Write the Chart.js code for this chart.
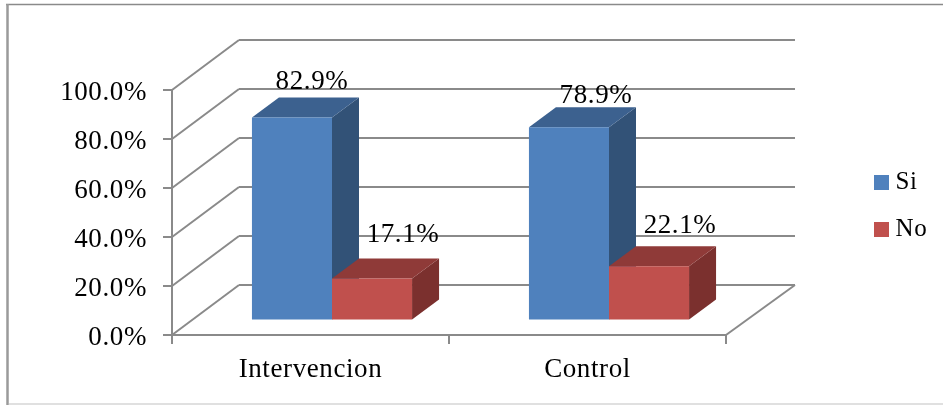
<!DOCTYPE html>
<html>
<head>
<meta charset="utf-8">
<style>html,body{margin:0;padding:0;background:#fff}canvas{display:block}</style>
<script src="https://cdn.jsdelivr.net/npm/chart.js@4"></script>
</head>
<body>
<canvas id="c" width="943" height="405"></canvas>
<script>
const categories = ['Intervencion', 'Control'];
const seriesSi = [82.9, 78.9];
const seriesNo = [17.1, 22.1];
const yTicks = [0, 20, 40, 60, 80, 100];

const FONT = '"Liberation Serif", serif';
const FONT_SIZE = 27;
const LINE = '#8a8a8a';
// Oblique projection of the box: wall depth and the offset and depth of the bars.
const WALL = { dx: 67, dy: -50, overhang: 2 };
const BAR = { dx: 27, dy: -20, shiftX: 21.5, shiftY: -14.5 };
const SHADES = [
  { top: '#3c618f', side: '#325277' },
  { top: '#8f3a38', side: '#7b302e' }
];
// Manual placement of the value labels relative to each bar's front top centre.
const LABEL_NUDGE = [
  [[20, -35.5], [27, -31.5]],
  [[31, -43.5], [31, -40.5]]
];

function line(ctx, x1, y1, x2, y2) {
  ctx.beginPath();
  ctx.moveTo(x1, y1);
  ctx.lineTo(x2, y2);
  ctx.stroke();
}

function poly(ctx, color, pts) {
  ctx.fillStyle = color;
  ctx.beginPath();
  pts.forEach((p, i) => i ? ctx.lineTo(p[0], p[1]) : ctx.moveTo(p[0], p[1]));
  ctx.closePath();
  ctx.fill();
}

const frame = {
  id: 'frame',
  beforeDraw(chart) {
    const ctx = chart.ctx;
    ctx.letterSpacing = '0.6px';
    ctx.save();
    ctx.strokeStyle = '#8a8a8a';
    ctx.lineWidth = 1.5;
    line(ctx, 6, 4.5, 943, 4.5);
    ctx.strokeStyle = '#9a9a9a';
    ctx.lineWidth = 2.5;
    line(ctx, 7.5, 4, 7.5, 405);
    ctx.strokeStyle = '#e0e0e0';
    ctx.lineWidth = 2;
    line(ctx, 9, 404, 943, 404);
    ctx.restore();
  }
};

const box3d = {
  id: 'box3d',
  afterLayout(chart) {
    const lg = chart.legend;
    const pad = lg.options.labels.padding;
    lg.left = 880 - pad;
    lg.right = lg.left + lg.width;
    lg.top = 170 - pad;
    lg.bottom = lg.top + lg.height;
    // Value-axis labels sit slightly below their tick marks.
    chart.scales.y.getLabelItems().forEach(item => { item.options.translation[1] += 3; });
  },
  beforeDatasetsDraw(chart) {
    const { ctx, scales: { x, y } } = chart;
    const back = x.right + WALL.dx + WALL.overhang;
    ctx.save();
    ctx.strokeStyle = LINE;
    ctx.lineWidth = 2;
    yTicks.forEach(v => {
      const py = y.getPixelForValue(v);
      line(ctx, x.left, py, x.left + WALL.dx, py + WALL.dy);
      line(ctx, x.left + WALL.dx, py + WALL.dy, back, py + WALL.dy);
    });
    const base = y.getPixelForValue(0);
    line(ctx, x.right, base, back, base + WALL.dy);
    ctx.restore();

    // Shift the bars off the front edge of the floor; released in afterDatasetsDraw.
    ctx.save();
    ctx.translate(BAR.shiftX, BAR.shiftY);
    chart.data.datasets.forEach((ds, di) => {
      chart.getDatasetMeta(di).data.forEach(el => {
        const { x: cx, y: top, base: bottom, width } = el.getProps(['x', 'y', 'base', 'width']);
        const l = cx - width / 2, r = cx + width / 2;
        poly(ctx, SHADES[di].side, [[r, top], [r + BAR.dx, top + BAR.dy], [r + BAR.dx, bottom + BAR.dy], [r, bottom]]);
        poly(ctx, SHADES[di].top, [[l, top], [l + BAR.dx, top + BAR.dy], [r + BAR.dx, top + BAR.dy], [r, top]]);
      });
    });
  },
  afterDatasetsDraw(chart) {
    const ctx = chart.ctx;
    ctx.restore();
    ctx.save();
    ctx.font = FONT_SIZE + 'px ' + FONT;
    ctx.fillStyle = '#000';
    ctx.textAlign = 'center';
    ctx.textBaseline = 'middle';
    chart.data.datasets.forEach((ds, di) => {
      chart.getDatasetMeta(di).data.forEach((el, i) => {
        const p = el.getProps(['x', 'y']);
        const n = LABEL_NUDGE[di][i];
        ctx.fillText(ds.data[i].toFixed(1) + '%', p.x + BAR.shiftX + n[0], p.y + BAR.shiftY + n[1]);
      });
    });
    ctx.restore();
  }
};

new Chart(document.getElementById('c'), {
  type: 'bar',
  data: {
    labels: categories,
    datasets: [
      { label: 'Si', data: seriesSi, backgroundColor: '#4f81bd' },
      { label: 'No', data: seriesNo, backgroundColor: '#c0504d' }
    ]
  },
  options: {
    responsive: false,
    animation: false,
    layout: { padding: { top: 90, right: 217, bottom: 0, left: 0 } },
    barPercentage: 1,
    categoryPercentage: 0.578,
    scales: {
      x: {
        afterFit: s => { s.height = 70; },
        grid: { drawOnChartArea: false, color: LINE, lineWidth: 2, tickLength: 9 },
        border: { color: LINE, width: 2 },
        ticks: { color: '#000', font: { family: FONT, size: FONT_SIZE }, padding: 10, maxRotation: 0 }
      },
      y: {
        min: 0,
        max: 100,
        afterBuildTicks: s => { s.ticks = yTicks.map(value => ({ value })); },
        afterFit: s => { s.width = 172; },
        grid: { drawOnChartArea: false, color: LINE, lineWidth: 2, tickLength: 9 },
        border: { color: LINE, width: 2 },
        ticks: {
          color: '#000',
          font: { family: FONT, size: FONT_SIZE },
          padding: 16,
          callback: v => v.toFixed(1) + '%'
        }
      }
    },
    plugins: {
      legend: {
        position: 'chartArea',
        align: 'start',
        labels: {
          color: '#000',
          font: { family: FONT, size: 25 },
          usePointStyle: true,
          pointStyle: 'rect',
          boxWidth: 3,
          boxHeight: 15,
          padding: 22
        }
      },
      tooltip: { enabled: false }
    }
  },
  plugins: [frame, box3d]
});
</script>
</body>
</html>
